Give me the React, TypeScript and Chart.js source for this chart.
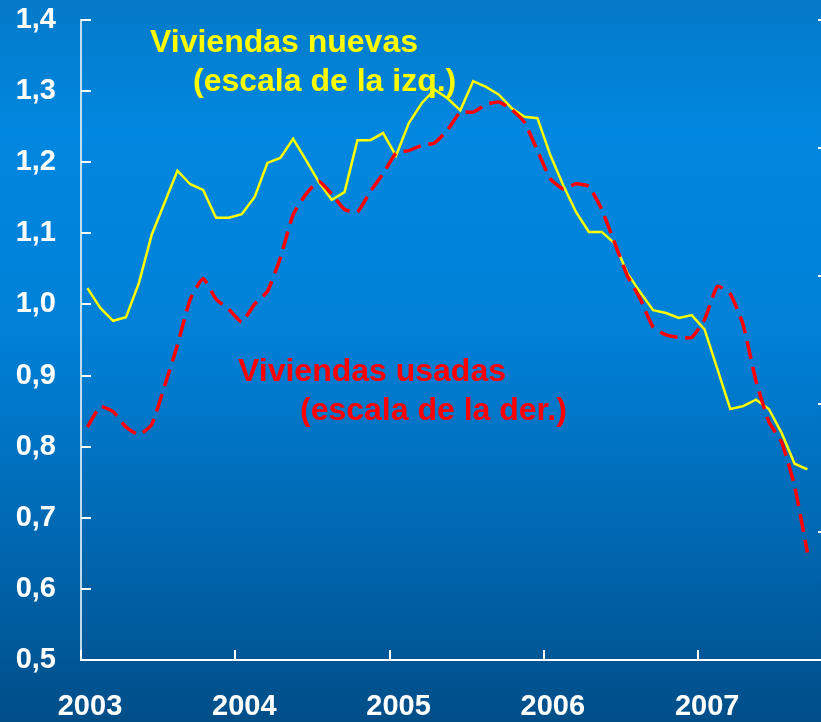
import React, { useEffect, useRef } from "react";
import { Chart, registerables } from "chart.js";

Chart.register(...registerables);

// ---- data ----
const YEARS = ["2003", "2004", "2005", "2006", "2007"];
const MONTHS_PER_YEAR = 12;

// Viviendas nuevas (left scale), monthly Jan-2003 .. Sep-2007
const NUEVAS = [
  1.023, 0.995, 0.977, 0.982, 1.03, 1.098, 1.143, 1.188, 1.169, 1.161, 1.122, 1.122,
  1.127, 1.151, 1.199, 1.206, 1.233, 1.203, 1.172, 1.147, 1.158, 1.231, 1.231, 1.241,
  1.209, 1.255, 1.283, 1.302, 1.29, 1.273, 1.314, 1.306, 1.295, 1.276, 1.264, 1.262,
  1.21, 1.168, 1.13, 1.102, 1.102, 1.086, 1.044, 1.017, 0.992, 0.988, 0.981, 0.985,
  0.965, 0.909, 0.853, 0.857, 0.866, 0.853, 0.819, 0.776, 0.768,
];

// Viviendas usadas (right scale), monthly Jan-2003 .. Sep-2007
const USADAS = [
  5.91, 5.99, 5.97, 5.91, 5.88, 5.92, 6.07, 6.23, 6.41, 6.49, 6.41, 6.37,
  6.32, 6.39, 6.44, 6.57, 6.74, 6.82, 6.87, 6.82, 6.76, 6.75, 6.83, 6.9,
  6.98, 6.99, 7.01, 7.02, 7.07, 7.14, 7.14, 7.17, 7.18, 7.15, 7.1, 6.99,
  6.88, 6.84, 6.86, 6.85, 6.76, 6.63, 6.5, 6.41, 6.3, 6.27, 6.26, 6.26,
  6.33, 6.46, 6.43, 6.31, 6.09, 5.93, 5.85, 5.68, 5.42,
];

const LEFT_MIN = 0.5;
const LEFT_MAX = 1.4;
const LEFT_STEP = 0.1;
const RIGHT_MIN = 5.0;
const RIGHT_MAX = 7.5;
const RIGHT_STEP = 0.5;

const LABEL_NUEVAS = ["Viviendas nuevas", "(escala de la izq.)"];
const LABEL_USADAS = ["Viviendas usadas", "(escala de la der.)"];

const FONT = "'Liberation Sans', Arial, Helvetica, sans-serif";

const bgPlugin = {
  id: "bgGradient",
  beforeDraw(chart: any) {
    const { ctx, width, height } = chart;
    const g = ctx.createLinearGradient(0, 0, 0, height);
    g.addColorStop(0, "#057ac8");
    g.addColorStop(0.18, "#0087df");
    g.addColorStop(0.45, "#0081d8");
    g.addColorStop(0.75, "#0067b0");
    g.addColorStop(1, "#004e88");
    ctx.save();
    ctx.fillStyle = g;
    ctx.fillRect(0, 0, width, height);
    ctx.restore();
  },
};

const innerTicksPlugin = {
  id: "innerTicks",
  beforeDatasetsDraw(chart: any) {
    const { ctx, chartArea, scales } = chart;
    ctx.save();
    ctx.lineWidth = 2;
    ctx.strokeStyle = "#ffffff";
    scales.y.ticks.forEach((t: any) => {
      const py = Math.round(scales.y.getPixelForValue(t.value));
      ctx.beginPath();
      ctx.moveTo(chartArea.left, py);
      ctx.lineTo(chartArea.left + 10, py);
      ctx.stroke();
    });
    scales.y2.ticks.forEach((t: any) => {
      const py = Math.round(scales.y2.getPixelForValue(t.value));
      ctx.beginPath();
      ctx.moveTo(chartArea.right, py);
      ctx.lineTo(chartArea.right - 10, py);
      ctx.stroke();
    });
    scales.x.ticks.forEach((t: any) => {
      const px = Math.round(scales.x.getPixelForValue(t.value));
      ctx.beginPath();
      ctx.moveTo(px, chartArea.bottom);
      ctx.lineTo(px, chartArea.bottom - 10);
      ctx.stroke();
    });
    ctx.restore();
  },
};

const labelsPlugin = {
  id: "seriesLabels",
  afterDraw(chart: any) {
    const { ctx } = chart;
    ctx.save();
    ctx.font = `bold 32px ${FONT}`;
    ctx.textBaseline = "alphabetic";
    ctx.textAlign = "left";
    ctx.fillStyle = "#ffff00";
    ctx.fillText(LABEL_NUEVAS[0], 150, 52);
    ctx.fillText(LABEL_NUEVAS[1], 193, 91);
    ctx.fillStyle = "#ff0000";
    ctx.fillText(LABEL_USADAS[0], 238, 381);
    ctx.fillText(LABEL_USADAS[1], 300, 420);
    ctx.restore();
  },
};

const zeroPad = (s: any) => {
  s.paddingTop = 0;
  s.paddingBottom = 0;
  s.paddingLeft = 0;
  s.paddingRight = 0;
};

export default function App() {
  const canvasRef = useRef<HTMLCanvasElement | null>(null);

  useEffect(() => {
    document.body.style.margin = "0";
    const canvas = canvasRef.current;
    if (!canvas) return;

    const chart = new Chart(canvas, {
      type: "line",
      data: {
        datasets: [
          {
            label: "Viviendas nuevas",
            data: NUEVAS.map((v, i) => ({ x: i + 0.5, y: v })),
            borderColor: "#ffff00",
            borderWidth: 2.5,
            pointRadius: 0,
            tension: 0,
            yAxisID: "y",
            order: 1,
          },
          {
            label: "Viviendas usadas",
            data: USADAS.map((v, i) => ({ x: i + 0.5, y: v })),
            borderColor: "#ff0000",
            borderWidth: 3.5,
            borderDash: [18, 8],
            pointRadius: 0,
            tension: 0.15,
            yAxisID: "y2",
            order: 0,
          },
        ],
      },
      plugins: [bgPlugin, innerTicksPlugin, labelsPlugin],
      options: {
        animation: false,
        responsive: false,
        maintainAspectRatio: false,
        devicePixelRatio: 1,
        layout: { padding: { top: 20, right: 7, left: 0, bottom: 0 } },
        plugins: {
          legend: { display: false },
          tooltip: { enabled: false },
        },
        scales: {
          x: {
            type: "linear",
            min: 0,
            max: 58.1,
            afterFit: (s: any) => {
              s.height = 62;
              zeroPad(s);
            },
            ticks: {
              stepSize: MONTHS_PER_YEAR,
              includeBounds: false,
              autoSkip: false,
              maxRotation: 0,
              labelOffset: 9,
              padding: 30,
              color: "#ffffff",
              font: { family: FONT, size: 29, weight: "bold" },
              callback: (v: any) => YEARS[Math.round(Number(v) / MONTHS_PER_YEAR)] ?? "",
            },
            grid: { display: false, drawTicks: false },
            border: { display: true, color: "#ffffff", width: 2 },
          },
          y: {
            position: "left",
            min: LEFT_MIN,
            max: LEFT_MAX,
            afterFit: (s: any) => {
              s.width = 81;
              zeroPad(s);
            },
            ticks: {
              stepSize: LEFT_STEP,
              padding: 25,
              color: "#ffffff",
              font: { family: FONT, size: 29, weight: "bold" },
              callback: (v: any) => Number(v).toFixed(1).replace(".", ","),
            },
            grid: { display: false, drawTicks: false },
            border: { display: true, color: "rgba(225,238,248,0.85)", width: 2 },
          },
          y2: {
            position: "right",
            display: false,
            min: RIGHT_MIN,
            max: RIGHT_MAX,
            afterFit: zeroPad,
            ticks: { stepSize: RIGHT_STEP },
            grid: { display: false },
          },
        },
      },
    });

    return () => chart.destroy();
  }, []);

  return (
    <div style={{ width: 821, height: 722, overflow: "hidden", position: "relative" }}>
      <canvas ref={canvasRef} width={835} height={722} style={{ display: "block" }} />
    </div>
  );
}
